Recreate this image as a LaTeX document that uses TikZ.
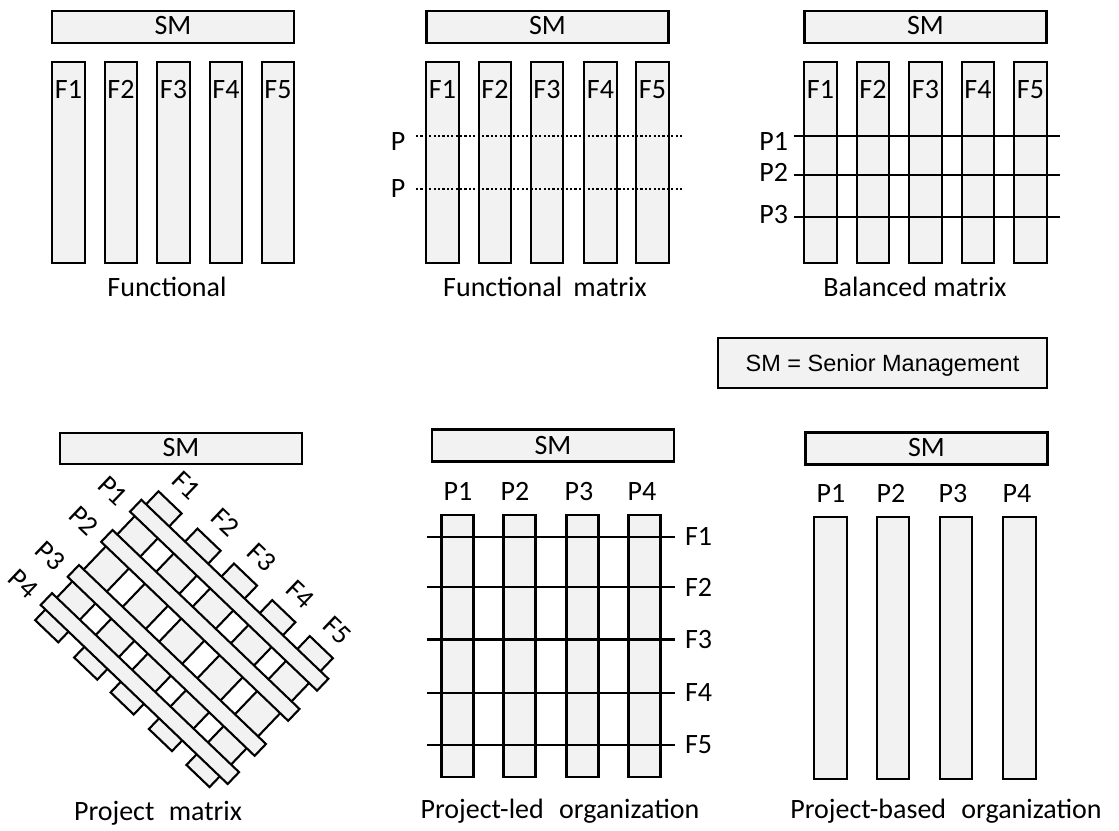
\documentclass[tikz,border=0pt]{standalone}
\usepackage{fontspec}
\setmainfont{Carlito}
\newfontfamily\arialf{Liberation Sans}
\definecolor{boxgrey}{HTML}{F2F2F2}
\tikzset{
  box/.style={draw=black, fill=boxgrey, line width=2.1pt, inner sep=0pt, outer sep=0pt},
  smbox/.style={box, minimum width=242pt, minimum height=32pt},
  colbar/.style={box, minimum width=32.5pt, minimum height=201pt},
  tallbar/.style={box, minimum width=32pt, minimum height=262pt},
  lbl/.style={inner sep=0pt, outer sep=0pt, font=\fontsize{28}{32}\selectfont},
  hline/.style={draw=black, line width=2.1pt},
  dotline/.style={draw=black, line width=2.2pt, dash pattern=on 2.2pt off 2.2pt},
}
\begin{document}
\begin{tikzpicture}[x=1pt,y=-1pt]
\useasboundingbox (0,0) rectangle (1119,830);

% ---------------- Functional ----------------
\node[smbox] (smA) at (173,27) {};
\node[lbl, anchor=base] (smAt) at (173,34.5) {SM};
\foreach \i/\x in {1/68.5,2/121,3/173.5,4/226,5/278} {
  \node[colbar] (fA\i) at (\x,162.5) {};
  \node[lbl, anchor=base] (fAl\i) at (\x,98) {F\i};
}
\node[lbl, anchor=base] (capA) at (167,296) {Functional};

% ---------------- Functional matrix ----------------
\node[smbox] (smB) at (547.5,27) {};
\node[lbl, anchor=base] (smBt) at (547.5,34.5) {SM};
\foreach \i/\x in {1/442.5,2/495,3/547,4/600.5,5/652.5} {
  \node[colbar] (fB\i) at (\x,162.5) {};
  \node[lbl, anchor=base] (fBl\i) at (\x,98) {F\i};
}
\foreach \j/\y/\b in {1/136/150,2/189/197} {
  \coordinate (pBw\j) at (416,\y);
  \coordinate (pBe\j) at (682,\y);
  \draw[dotline] (pBw\j) -- (pBe\j);
  \node[lbl, anchor=base] (pBl\j) at (398,\b) {P};
}
\node[lbl, anchor=base] (capB) at (545,296) {Functional\hspace{5pt} matrix};

% ---------------- Balanced matrix ----------------
\node[smbox] (smC) at (925.5,27) {};
\node[lbl, anchor=base] (smCt) at (925.5,34.5) {SM};
\foreach \i/\x in {1/820.5,2/873,3/925.5,4/978,5/1030.5} {
  \node[colbar] (fC\i) at (\x,162.5) {};
  \node[lbl, anchor=base] (fCl\i) at (\x,98) {F\i};
}
\foreach \j/\y/\b in {1/136/150,2/175/181,3/217/223} {
  \coordinate (pCw\j) at (794,\y);
  \coordinate (pCe\j) at (1060,\y);
  \draw[hline] (pCw\j) -- (pCe\j);
  \node[lbl, anchor=base east] (pCl\j) at (788,\b) {P\j};
}
\node[lbl, anchor=base] (capC) at (915,296) {Balanced matrix};

% legend
\node[box, minimum width=329pt, minimum height=50pt] (legend) at (882.5,363) {};
\node[inner sep=0pt, anchor=base, font=\arialf\fontsize{23.5}{26}\selectfont] (legendt) at (882.5,371.5) {SM = Senior Management};

% ---------------- Project matrix ----------------
\node[box, minimum width=242pt, minimum height=31pt] (smD) at (181,448.5) {};
\node[lbl, anchor=base] (smDt) at (181,456.5) {SM};
\begin{scope}[x={(0.722pt,-0.691pt)}, y={(-0.691pt,-0.722pt)}]
  \foreach \c in {470.5,524.5,575,628,680} {
    \draw[box] (\c-16,245.5) -- (\c+16,245.5) -- (\c+16,424) -- (\c-16,424) -- cycle;
  }
  \foreach \n in {271.7,313.5,362,401} {
    \draw[box] (448,\n-8.2) -- (707,\n-8.2) -- (707,\n+8.2) -- (448,\n+8.2) -- cycle;
  }
  \foreach \i/\n in {1/271.7,2/313.5,3/362,4/401} {
    \node[lbl, rotate=-43.7] (pDl\i) at (421,\n+5) {P\i};
  }
  \foreach \i/\c in {1/470.5,2/524.5,3/575,4/628,5/680} {
    \node[lbl, rotate=-43.7] (fDl\i) at (\c,222) {F\i};
  }
\end{scope}
\node[lbl, anchor=base] (capD) at (158,820) {Project\hspace{8pt} matrix};

% ---------------- Project-led organization ----------------
\node[smbox] (smE) at (553,445.5) {};
\node[lbl, anchor=base] (smEt) at (553,454.5) {SM};
\foreach \i/\x/\lx in {1/457.5/458,2/519.5/515,3/582.5/579,4/644.5/642} {
  \node[tallbar] (pE\i) at (\x,646) {};
  \node[lbl, anchor=base] (pEl\i) at (\lx,500) {P\i};
}
\foreach \j/\y in {1/536.7,2/587,3/639.5,4/692.7,5/745} {
  \coordinate (fEw\j) at (427,\y);
  \coordinate (fEe\j) at (675,\y);
  \draw[hline] (fEw\j) -- (fEe\j);
  \node[lbl, anchor=west] (fEl\j) at (685,\y) {F\j};
}
\node[lbl, anchor=base] (capE) at (560,818) {Project-led\hspace{9pt} organization};

% ---------------- Project-based organization ----------------
\node[smbox] (smF) at (926.5,448.5) {};
\node[lbl, anchor=base] (smFt) at (926.5,456.5) {SM};
\foreach \i/\x/\lx in {1/830.5/831,2/893/891,3/956/953,4/1019.5/1017} {
  \node[tallbar, minimum width=32.5pt] (pF\i) at (\x,648) {};
  \node[lbl, anchor=base] (pFl\i) at (\lx,502) {P\i};
}
\node[lbl, anchor=base] (capF) at (946,818) {Project-based\hspace{9pt} organization};
\end{tikzpicture}
\end{document}
